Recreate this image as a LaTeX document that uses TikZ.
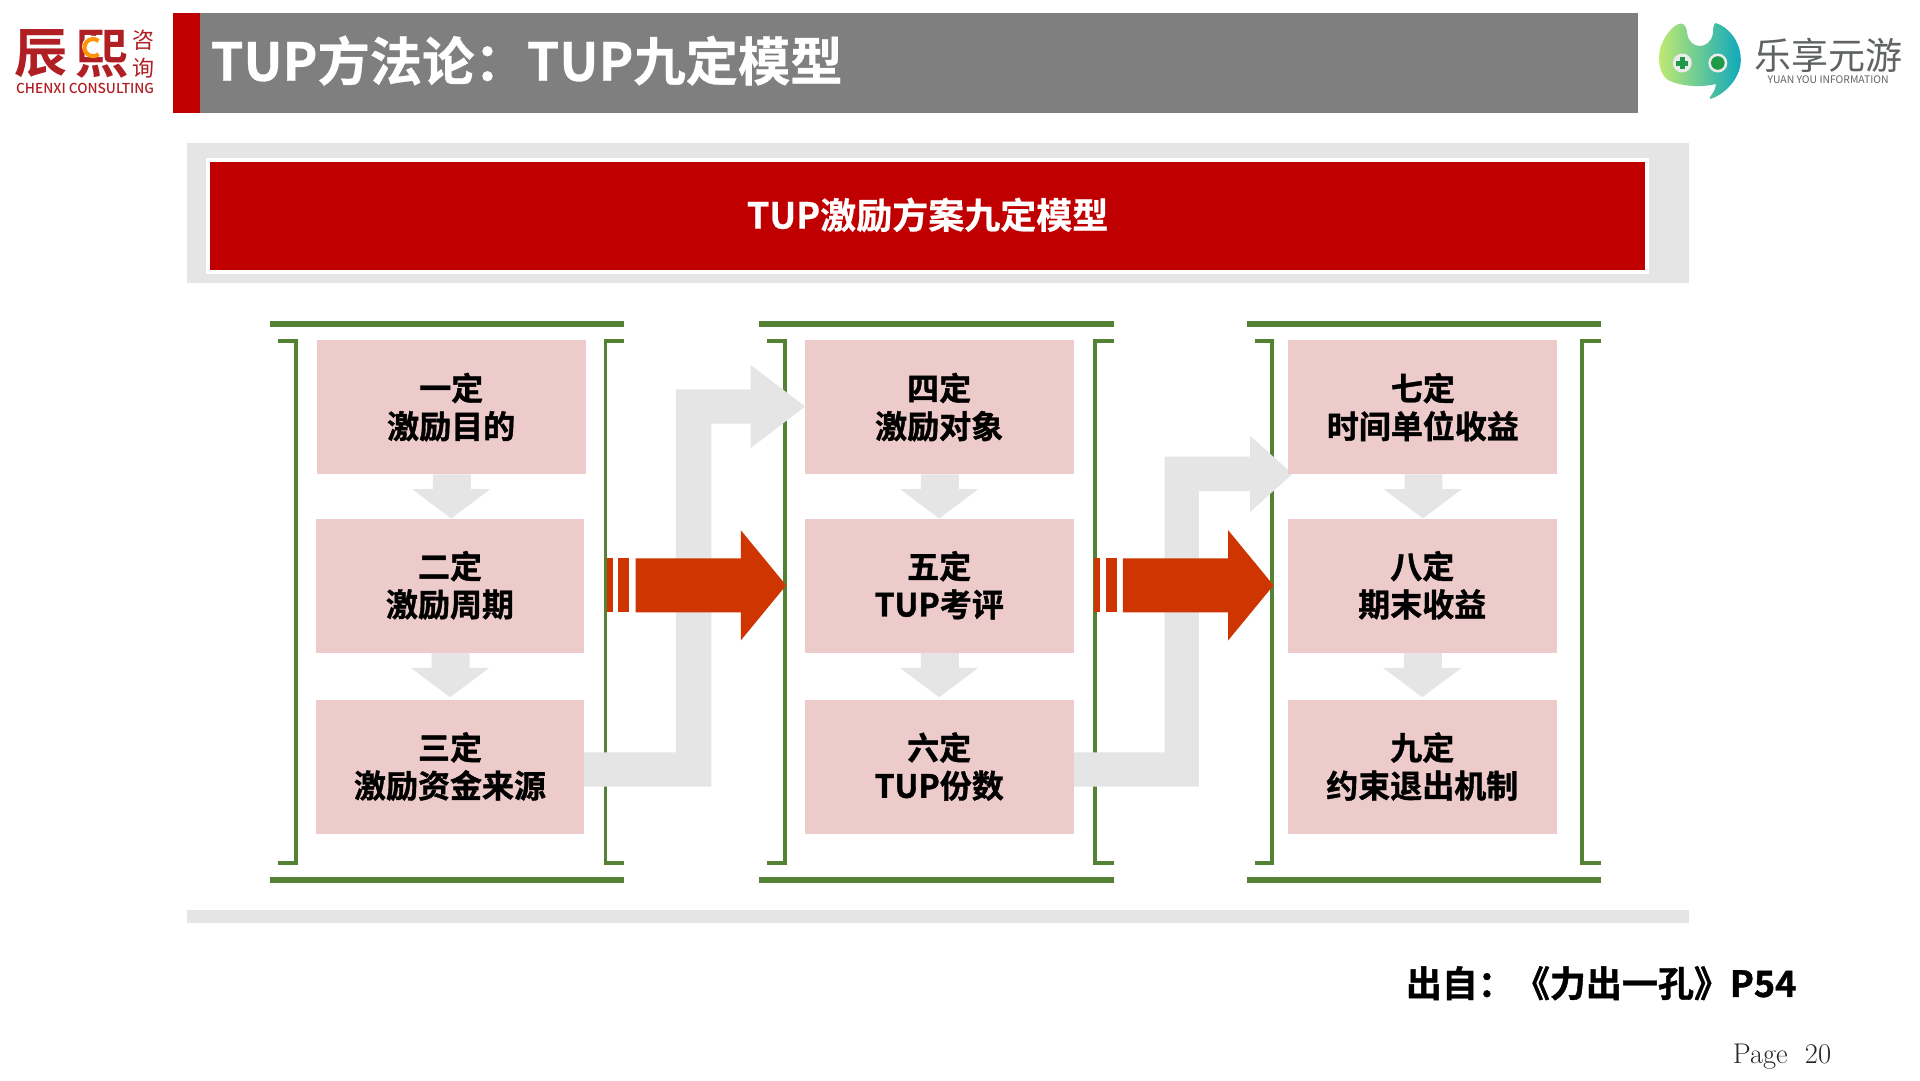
\documentclass[tikz,border=0pt]{standalone}
\usepackage{fontspec}
\newfontfamily\cjkb{Noto Sans CJK SC Bold}
\newfontfamily\cjkbb[FakeBold=1.2]{Noto Sans CJK SC Bold}
\newfontfamily\cjkt[FakeBold=0.6]{Noto Sans CJK SC Bold}
\newfontfamily\cjkr{Noto Sans CJK SC}
\newfontfamily\cjkm{Noto Sans CJK SC Medium}
\definecolor{hdr}{HTML}{7F7F7F}
\definecolor{redd}{HTML}{C00000}
\definecolor{pale}{HTML}{E5E5E5}
\definecolor{pinkbox}{HTML}{ECCBCA}
\definecolor{grn}{HTML}{548235}
\definecolor{redarrow}{HTML}{CE3500}
\definecolor{logored}{HTML}{B01F24}
\definecolor{logogray}{HTML}{5F6462}
\definecolor{blobl}{HTML}{C2EA70}
\definecolor{blobm}{HTML}{62CC3C}
\definecolor{blobr}{HTML}{0FA9BC}
\definecolor{eyeg}{HTML}{1E9A48}
\newcommand{\lift}{\rule[-2.4pt]{0pt}{0pt}}
\newcommand{\liftb}{\rule[-4.4pt]{0pt}{0pt}}
\tikzset{
  x=1.2245pt,y=-1.2245pt,
  box/.style={fill=pinkbox,inner sep=0pt,minimum width=268.8pt,minimum height=134pt,align=center,font=\cjkbb\fontsize{32}{38}\selectfont,text=black},
  grnline/.style={draw=grn,line width=3.9pt,line join=miter},
  bar/.style={fill=grn},
}
\newcommand{\bracketgroup}[1]{%
  \begin{scope}[shift={(#1,0)}]
    \fill[bar] (220.5,262) rectangle (510,267);
    \fill[bar] (220.5,716) rectangle (510,721);
    \draw[grnline] (227,278.5) -- (241.5,278.5) -- (241.5,704.5) -- (227,704.5);
    \draw[grnline] (510,278.5) -- (494.5,278.5) -- (494.5,704.5) -- (510,704.5);
  \end{scope}}
\newcommand{\downblock}[1]{%
  \fill[pale,shift={(#1)}] (-15,0) -- (16,0) -- (16,12) -- (32,12) -- (0,36) -- (-32,12) -- (-15,12) -- cycle;}
\newcommand{\redblock}[1]{%
  \begin{scope}[shift={(#1,0)}]
    \fill[redarrow] (495.5,456) rectangle (500.5,500);
    \fill[redarrow] (505,456) rectangle (514,500);
    \fill[redarrow] (519,456) -- (605,456) -- (605,433) -- (642,478) -- (605,523) -- (605,500) -- (519,500) -- cycle;
  \end{scope}}
\begin{document}
\begin{tikzpicture}
\useasboundingbox (0,0) rectangle (1568,882);
\fill[white] (0,0) rectangle (1568,882);
% header
\fill[hdr] (141,11) rectangle (1338,92);
\fill[redd] (141,11) rectangle (163,92);
\node[anchor=west,inner sep=0pt,text=white,font=\cjkt\fontsize{52.3}{60}\selectfont] (title) at (172,49.5) {TUP方法论：TUP九定模型};
% left logo
\node[inner sep=0pt,text=logored,font=\cjkb\fontsize{53}{60}\selectfont] (lg1) at (33.5,44) {辰};
\node[inner sep=0pt,text=logored,font=\cjkb\fontsize{53}{60}\selectfont] (lg2) at (83,44) {熙};
\fill[white] (76,38) circle (9);
\draw[orange!85!yellow,line width=4pt] (80.5,33.5) arc (-50:-310:7);
\node[inner sep=0pt,text=logored,font=\cjkr\fontsize{22}{22}\selectfont] (lg3) at (117,32.5) {咨};
\node[inner sep=0pt,text=logored,font=\cjkr\fontsize{22}{22}\selectfont] (lg4) at (117,55.5) {询};
\node[inner sep=0pt,text=logored,font=\cjkm\fontsize{13.7}{14}\selectfont] (lg5) at (69.5,72) {CHENXI CONSULTING};
% right logo
\begin{scope}[shift={(1306.5,0)},x=1pt,y=-1pt]
  \shade[left color=blobl,middle color=blobm,right color=blobr]
    (81,23.5) .. controls (86,23.5) and (87,30) .. (87.5,34)
    .. controls (90,50) and (110,50) .. (113,34)
    .. controls (113.5,29) and (113,24) .. (116,23)
    .. controls (129,27) and (141,42) .. (141,60)
    .. controls (141,78) and (125,95) .. (110,99)
    .. controls (108,98) and (116,92) .. (116,84)
    .. controls (100,88) and (80,86) .. (68,80)
    .. controls (60,74) and (58,62) .. (60,50)
    .. controls (63,38) and (72,25) .. (81,23.5) -- cycle;
  \fill[white!92!black] (82.5,63) circle (9.5);
  \fill[white!92!black] (118,63) circle (9.5);
  \fill[eyeg] (118,63) circle (6.8);
  \fill[eyeg] (80,57) rectangle (85,69);
  \fill[eyeg] (76.5,60.5) rectangle (88.5,65.5);
\end{scope}
\node[inner sep=0pt,text=logogray,font=\cjkr\fontsize{37}{39}\selectfont] (lr1) at (1493.5,45) {乐享元游};
\node[inner sep=0pt,text=logogray,font=\cjkr\fontsize{10.4}{12}\selectfont] (lr2) at (1493,65) {YUAN YOU INFORMATION};
% title band
\fill[pale] (153,117) rectangle (1379.5,231);
\fill[white] (168.5,129) rectangle (1347,224);
\fill[redd] (171.5,132) rectangle (1343.5,220.5);
\node[inner sep=0pt,text=white,font=\cjkt\fontsize{36}{40}\selectfont] (band) at (757.5,175.5) {TUP激励方案九定模型};
\fill[pale] (153,743) rectangle (1379.5,753.5);
% bracket groups
\bracketgroup{0}
\bracketgroup{399.5}
\bracketgroup{797.5}
\path
  (368.5,332.5) coordinate (c1)
  (367.5,478.5) coordinate (c2)
  (367.5,626) coordinate (c3)
  (767,332.5) coordinate (c4)
  (767,478.5) coordinate (c5)
  (767,626) coordinate (c6)
  (1162,332.5) coordinate (c7)
  (1161.5,478.5) coordinate (c8)
  (1161.5,626) coordinate (c9);
% elbow arrows
\fill[pale] (477,614.5) -- (552,614.5) -- (552,318) -- (613,318) -- (613,298) -- (657.5,332) -- (613,366) -- (613,346) -- (581,346) -- (581,642.5) -- (477,642.5) -- cycle;
\fill[pale] (876,614.5) -- (951,614.5) -- (951,373) -- (1021,373) -- (1021,356) -- (1055.5,387) -- (1021,418) -- (1021,401) -- (979,401) -- (979,642.5) -- (876,642.5) -- cycle;
% boxes
\node[box] (b1) at (c1) {一定\\激励目的\lift};
\node[box] (b2) at (c2) {二定\\激励周期\liftb};
\node[box] (b3) at (c3) {三定\\激励资金来源\lift};
\node[box] (b4) at (c4) {四定\\激励对象\lift};
\node[box] (b5) at (c5) {五定\\TUP考评\liftb};
\node[box] (b6) at (c6) {六定\\TUP份数\lift};
\node[box] (b7) at (c7) {七定\\时间单位收益\lift};
\node[box] (b8) at (c8) {八定\\期末收益\liftb};
\node[box] (b9) at (c9) {九定\\约束退出机制\lift};
% down arrows
\downblock{b1.south}
\downblock{b2.south}
\downblock{b4.south}
\downblock{b5.south}
\downblock{b7.south}
\downblock{b8.south}
% red arrows
\redblock{0}
\redblock{398}
% footer
\node[anchor=west,inner sep=0pt,text=black,font=\cjkbb\fontsize{36}{40}\selectfont] (src) at (1148,803) {出自：《力出一孔》P54};
\node[anchor=west,inner sep=0pt,text=black!85,font=\rmfamily\fontsize{28.5}{30}\selectfont] (pg) at (1415,863) {Page\ \ 20};
\end{tikzpicture}
\end{document}
